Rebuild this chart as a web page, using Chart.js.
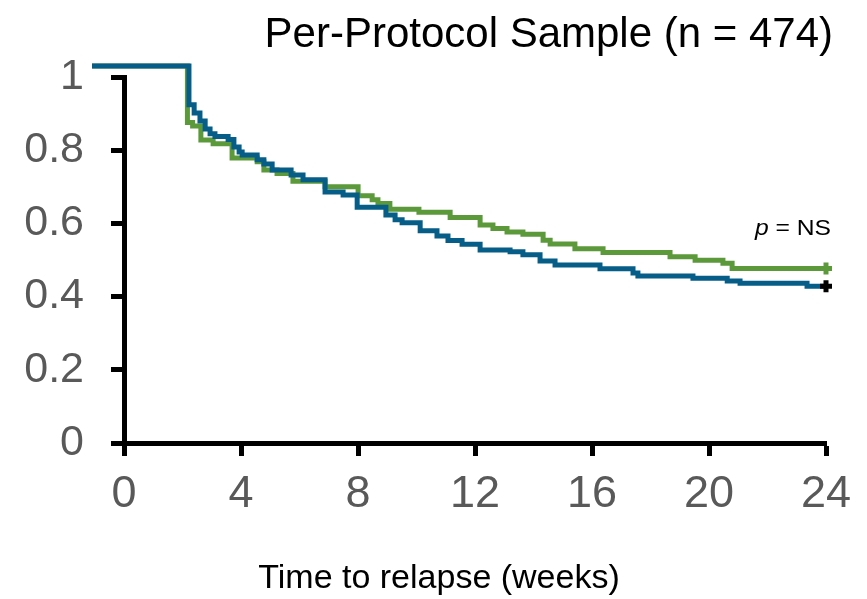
<!DOCTYPE html>
<html>
<head>
<meta charset="utf-8">
<script src="https://cdn.jsdelivr.net/npm/chart.js@4.4.1/dist/chart.umd.min.js"></script>
<style>
  html, body { margin: 0; padding: 0; background: #fff; }
  #wrap { width: 867px; height: 599px; }
</style>
</head>
<body>
<div id="wrap"><canvas id="kmChart" width="867" height="599"></canvas></div>
<script>
// tick values and labels
const xTickValues = [0, 4, 8, 12, 16, 20, 24];
const xTickLabels = ['0', '4', '8', '12', '16', '20', '24'];
const yTickValues = [0, 0.2, 0.4, 0.6, 0.8, 1];
const yTickLabels = ['0', '0.2', '0.4', '0.6', '0.8', '1'];

// survival curves (weeks, proportion not relapsed)
const blueTimes = [0, 3.17, 3.34, 3.53, 3.70, 3.86, 4.02, 4.45, 4.64, 4.81, 4.91,
    5.40, 5.62, 5.89, 6.51, 6.90, 7.62, 8.21, 8.67, 9.61, 9.91,
    10.14, 10.73, 11.28, 11.64, 12.10, 12.69, 13.67, 14.09, 14.65, 15.14,
    16.61, 17.69, 17.85, 19.65, 20.77, 21.19, 23.38, 24];
const blueSurv = [1, 0.897, 0.875, 0.854, 0.833, 0.820, 0.813, 0.805, 0.785, 0.772, 0.764,
    0.751, 0.740, 0.724, 0.711, 0.698, 0.666, 0.658, 0.625, 0.605, 0.592,
    0.584, 0.563, 0.549, 0.537, 0.527, 0.512, 0.507, 0.499, 0.483, 0.472,
    0.462, 0.451, 0.443, 0.437, 0.430, 0.424, 0.416, 0.416];

const greenTimes = [0, 3.12, 3.29, 3.56, 3.96, 4.58, 5.40, 5.62, 6.05, 6.57,
    7.62, 8.70, 9.16, 9.35, 9.74, 10.69, 11.71, 12.69, 13.11, 13.57,
    14.09, 14.75, 14.98, 15.79, 16.71, 18.90, 19.72, 20.63, 20.93, 24];
const greenSurv = [1, 0.850, 0.841, 0.804, 0.794, 0.756, 0.746, 0.724, 0.715, 0.694,
    0.680, 0.656, 0.645, 0.635, 0.620, 0.612, 0.598, 0.578, 0.569, 0.560,
    0.554, 0.538, 0.528, 0.515, 0.505, 0.494, 0.485, 0.477, 0.463, 0.463];

const titleText = 'Per-Protocol Sample (n = 474)';
const xTitleText = 'Time to relapse (weeks)';

const BLUE = '#055d88';
const GREEN = '#5b993b';
const FONT = '"Liberation Sans", Arial, sans-serif';

function toPoints(times, surv) {
    return times.map((t, i) => ({ x: t, y: surv[i] }));
}

function endMarker(ctx) {
    return ctx.dataIndex === ctx.dataset.data.length - 1 ? 6 : 0;
}

function labelFor(values, labels) {
    return (v) => {
        const i = values.findIndex(t => Math.abs(t - v) < 1e-9);
        return i >= 0 ? labels[i] : '';
    };
}

// texts drawn straight onto the canvas
const textPlugin = {
    id: 'texts',
    afterDraw(chart) {
        const c = chart.ctx;
        c.save();
        c.fillStyle = '#000';
        c.textBaseline = 'alphabetic';

        c.font = '42px ' + FONT;
        c.textAlign = 'right';
        c.fillText(titleText, 833, 47);

        c.font = '34px ' + FONT;
        c.textAlign = 'center';
        c.fillText(xTitleText, 439, 588);

        // p = NS (a bit wider than normal, like the original)
        const sx = 1.12;
        c.textAlign = 'left';
        c.font = 'italic 22px ' + FONT;
        const wp = c.measureText('p').width;
        c.font = '22px ' + FONT;
        const wr = c.measureText(' = NS').width;
        c.translate(831 - (wp + wr) * sx, 235);
        c.scale(sx, 1);
        c.font = 'italic 22px ' + FONT;
        c.fillText('p', 0, 0);
        c.font = '22px ' + FONT;
        c.fillText(' = NS', wp, 0);
        c.restore();
    }
};

const ctx = document.getElementById('kmChart').getContext('2d');
const kmChart = new Chart(ctx, {
    type: 'line',
    data: {
        datasets: [{
            label: 'Blue',
            data: toPoints(blueTimes, blueSurv),
            xAxisID: 'xc',
            yAxisID: 'yc',
            borderColor: BLUE,
            borderWidth: 5,
            stepped: true,
            fill: false,
            clip: false,
            pointStyle: 'cross',
            pointRadius: endMarker,
            pointBorderColor: '#000',
            pointBorderWidth: 5
        }, {
            label: 'Green',
            data: toPoints(greenTimes, greenSurv),
            xAxisID: 'xc',
            yAxisID: 'yc',
            borderColor: GREEN,
            borderWidth: 5,
            stepped: true,
            fill: false,
            clip: false,
            pointStyle: 'cross',
            pointRadius: endMarker,
            pointBorderColor: GREEN,
            pointBorderWidth: 5
        }]
    },
    options: {
        responsive: false,
        animation: false,
        events: [],
        layout: { padding: { top: 77, right: 41, left: 0, bottom: 0 } },
        plugins: {
            legend: { display: false },
            tooltip: { enabled: false }
        },
        scales: {
            x: {
                type: 'linear',
                min: 0,
                max: 24,
                afterBuildTicks: (s) => { s.ticks = xTickValues.map(v => ({ value: v })); },
                afterFit: (s) => { s.height = 156; },
                grid: { drawOnChartArea: false, drawTicks: true, tickLength: 13, tickWidth: 5, tickColor: '#000' },
                border: { display: true, color: '#000', width: 5 },
                ticks: { color: '#595959', padding: 12, font: { family: FONT, size: 45 },
                    callback: labelFor(xTickValues, xTickLabels) }
            },
            y: {
                type: 'linear',
                min: 0,
                max: 1,
                afterBuildTicks: (s) => { s.ticks = yTickValues.map(v => ({ value: v })); },
                afterFit: (s) => { s.width = 124; },
                grid: { drawOnChartArea: false, drawTicks: true, tickLength: 13, tickWidth: 5, tickColor: '#000' },
                border: { display: true, color: '#000', width: 5 },
                ticks: { color: '#595959', padding: 27, font: { family: FONT, size: 43 },
                    callback: labelFor(yTickValues, yTickLabels) }
            },
            // the curves sit slightly up and left of the drawn axes in the original
            xc: { type: 'linear', display: false, min: 1.046, max: 24 },
            yc: { type: 'linear', display: false, min: 0, max: 0.9708 }
        }
    },
    plugins: [textPlugin]
});
</script>
</body>
</html>
